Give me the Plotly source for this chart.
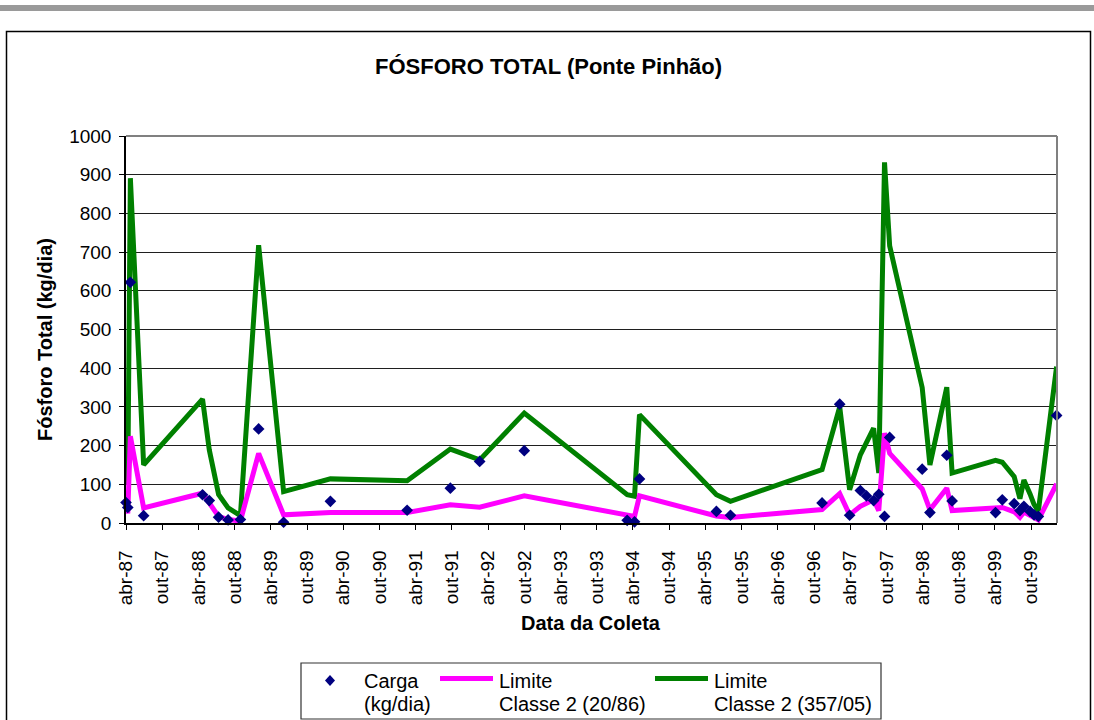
import plotly.graph_objects as go

# Sampling dates at Ponte Pinhão
datas = [
    "1987-04-01", "1987-04-10", "1987-04-23", "1987-06-29", "1988-04-21",
    "1988-05-25", "1988-07-11", "1988-08-28", "1988-10-29", "1989-01-29",
    "1989-06-04", "1990-01-26", "1991-02-17", "1991-09-23", "1992-02-18",
    "1992-09-30", "1994-03-03", "1994-04-09", "1994-05-04", "1995-05-27",
    "1995-08-06", "1996-11-10", "1997-02-07", "1997-03-29", "1997-05-22",
    "1997-06-22", "1997-07-28", "1997-08-23", "1997-09-21", "1997-10-17",
    "1998-03-30", "1998-05-08", "1998-08-01", "1998-08-28", "1999-04-04",
    "1999-05-08", "1999-07-07", "1999-08-05", "1999-08-25", "1999-09-25",
    "1999-10-15", "1999-11-06", "2000-02-06",
]

# Measured total phosphorus load (kg/dia)
carga = [
    53, 40, 622, 19, 73,
    58, 15, 8, 9, 243,
    2, 56, 33, 90, 159,
    187, 7, 3, 114, 30,
    20, 52, 307, 20, 84,
    70, 58, 74, 17, 221,
    139, 27, 175, 57, 27,
    60, 50, 32, 43, 30,
    21, 17, 278,
]

# Class 2 limit, CONAMA 20/86 (kg/dia)
limite_20_86 = [
    44, 25, 224, 39, 77,
    50, 17, 9, 5, 180,
    21, 27, 27, 47, 41,
    70, 18, 17, 70, 18,
    14, 35, 76, 21, 43,
    52, 60, 32, 232, 180,
    88, 34, 90, 32, 41,
    40, 29, 15, 28, 19,
    12, 8, 101,
]

# Class 2 limit, CONAMA 357/05 (kg/dia)
limite_357_05 = [
    176, 100, 891, 150, 320,
    189, 74, 39, 19, 718,
    81, 114, 109, 191, 163,
    284, 73, 69, 280, 73,
    56, 138, 300, 86, 176,
    210, 245, 129, 932, 716,
    350, 150, 351, 129, 162,
    157, 120, 63, 111, 75,
    48, 31, 404,
]

tick_dates = [
    "1987-04-01", "1987-10-01", "1988-04-01", "1988-10-01", "1989-04-01",
    "1989-10-01", "1990-04-01", "1990-10-01", "1991-04-01", "1991-10-01",
    "1992-04-01", "1992-10-01", "1993-04-01", "1993-10-01", "1994-04-01",
    "1994-10-01", "1995-04-01", "1995-10-01", "1996-04-01", "1996-10-01",
    "1997-04-01", "1997-10-01", "1998-04-01", "1998-10-01", "1999-04-01",
    "1999-10-01",
]
tick_labels = [
    "abr-87", "out-87", "abr-88", "out-88", "abr-89",
    "out-89", "abr-90", "out-90", "abr-91", "out-91",
    "abr-92", "out-92", "abr-93", "out-93", "abr-94",
    "out-94", "abr-95", "out-95", "abr-96", "out-96",
    "abr-97", "out-97", "abr-98", "out-98", "abr-99",
    "out-99",
]

# Legend entries: (first line, second line)
legend_carga = ("Carga", "(kg/dia)")
legend_20_86 = ("Limite", "Classe 2 (20/86)")
legend_357_05 = ("Limite", "Classe 2 (357/05)")

COR_CARGA = "#000080"
COR_20_86 = "#FF00FF"
COR_357_05 = "#008000"

FONT = "Liberation Sans, Arial, sans-serif"
W, H = 1094, 720
PL, PR, PT, PB = 126, 1057, 136, 523  # plot area in pixels


def px_x(px):
    return (px - PL) / (PR - PL)


def px_y(py):
    return (PB - py) / (PB - PT)


fig = go.Figure()

fig.add_trace(go.Scatter(
    x=datas, y=limite_357_05, mode="lines",
    name=" ".join(legend_357_05),
    line=dict(color=COR_357_05, width=5),
    cliponaxis=False,
))
fig.add_trace(go.Scatter(
    x=datas, y=limite_20_86, mode="lines",
    name=" ".join(legend_20_86),
    line=dict(color=COR_20_86, width=5),
    cliponaxis=False,
))
fig.add_trace(go.Scatter(
    x=datas, y=carga, mode="markers",
    name=" ".join(legend_carga),
    marker=dict(symbol="diamond", size=9, color=COR_CARGA),
    cliponaxis=False,
))

# Legend box drawn below the axis title (kept inside the chart frame)
LEG_L, LEG_R, LEG_T, LEG_B = 301, 881, 663, 719
ROW1, ROW2 = 680.5, 703.5
shapes = [
    # header band above the chart frame
    dict(type="rect", xref="paper", yref="paper",
         x0=px_x(0), x1=px_x(W), y0=px_y(11), y1=px_y(5),
         fillcolor="#9a9a9a", line=dict(width=0), layer="below"),
    # chart frame
    dict(type="rect", xref="paper", yref="paper",
         x0=px_x(6.5), x1=px_x(1090.5), y0=px_y(735), y1=px_y(31.5),
         line=dict(color="black", width=1.5), fillcolor="rgba(0,0,0,0)",
         layer="below"),
    # plot area border (top and right)
    dict(type="line", xref="paper", yref="paper",
         x0=0, x1=1, y0=1, y1=1, line=dict(color="#808080", width=2)),
    dict(type="line", xref="paper", yref="paper",
         x0=1, x1=1, y0=0, y1=1, line=dict(color="#808080", width=2)),
    # legend box
    dict(type="rect", xref="paper", yref="paper",
         x0=px_x(LEG_L), x1=px_x(LEG_R), y0=px_y(LEG_B), y1=px_y(LEG_T),
         line=dict(color="#333333", width=1.2), fillcolor="white"),
    # legend keys
    dict(type="path", xref="paper", yref="paper",
         path="M {0},{1} L {2},{3} L {0},{4} L {5},{3} Z".format(
             px_x(330), px_y(ROW1 - 5.5), px_x(335), px_y(ROW1),
             px_y(ROW1 + 5.5), px_x(325)),
         fillcolor=COR_CARGA, line=dict(width=0)),
    dict(type="line", xref="paper", yref="paper",
         x0=px_x(440), x1=px_x(493), y0=px_y(ROW1 - 2), y1=px_y(ROW1 - 2),
         line=dict(color=COR_20_86, width=5)),
    dict(type="line", xref="paper", yref="paper",
         x0=px_x(655), x1=px_x(708), y0=px_y(ROW1 - 2), y1=px_y(ROW1 - 2),
         line=dict(color=COR_357_05, width=5)),
]

annotations = [
    dict(text="<b>FÓSFORO TOTAL (Ponte Pinhão)</b>",
         xref="paper", yref="paper", x=px_x(548), y=px_y(66),
         xanchor="center", yanchor="middle", showarrow=False,
         font=dict(family=FONT, size=22, color="black")),
    dict(text="<b>Fósforo Total (kg/dia)</b>",
         xref="paper", yref="paper", x=px_x(45), y=px_y(340),
         xanchor="center", yanchor="middle", showarrow=False,
         textangle=-90,
         font=dict(family=FONT, size=20, color="black")),
    dict(text="<b>Data da Coleta</b>",
         xref="paper", yref="paper", x=px_x(591), y=px_y(623),
         xanchor="center", yanchor="middle", showarrow=False,
         font=dict(family=FONT, size=20, color="black")),
]
for left, (line1, line2) in ((362, legend_carga), (497, legend_20_86),
                             (712, legend_357_05)):
    for row, txt in ((ROW1, line1), (ROW2, line2)):
        annotations.append(dict(
            text=txt, xref="paper", yref="paper",
            x=px_x(left), y=px_y(row), xanchor="left", yanchor="middle",
            showarrow=False,
            font=dict(family=FONT, size=20, color="black")))

fig.update_layout(
    width=W, height=H, autosize=False,
    margin=dict(l=PL, r=W - PR, t=PT, b=H - PB, pad=0),
    paper_bgcolor="white", plot_bgcolor="white",
    font=dict(family=FONT, color="black", size=19),
    showlegend=False,
    xaxis=dict(
        type="date",
        range=["1987-04-01", "2000-02-08"],
        tickmode="array", tickvals=tick_dates, ticktext=tick_labels,
        tickangle=-90, ticks="outside", ticklen=5, tickcolor="black",
        tickfont=dict(size=19), ticklabelstandoff=13,
        showgrid=False, zeroline=False,
        showline=True, linecolor="black", linewidth=1.5,
    ),
    yaxis=dict(
        range=[0, 1000], tick0=0, dtick=100,
        ticks="outside", ticklen=5, tickcolor="black",
        tickfont=dict(size=19), ticklabelstandoff=4,
        showgrid=True, gridcolor="#1f1f1f", gridwidth=1,
        zeroline=False,
        showline=True, linecolor="black", linewidth=1.5,
    ),
    shapes=shapes,
    annotations=annotations,
)

fig.write_html("out.html")
